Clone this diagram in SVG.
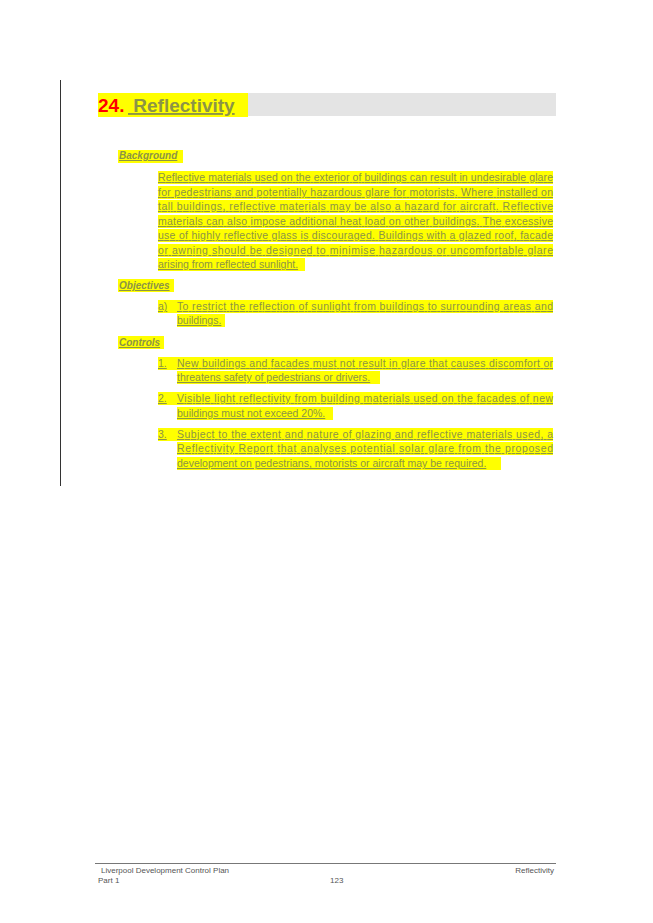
<svg xmlns="http://www.w3.org/2000/svg" width="653" height="923" viewBox="0 0 653 923">
<style>
.t{font-family:"Liberation Sans",Arial,sans-serif;font-size:10.5px;fill:#8c9446;text-decoration:underline}
.h{font-family:"Liberation Sans",Arial,sans-serif;font-size:10px;font-weight:bold;font-style:italic;fill:#8c9446;text-decoration:underline}
.hl{fill:#ffff00}
.f{font-family:"Liberation Sans",Arial,sans-serif;font-size:8px;fill:#555}
</style>
<rect width="653" height="923" fill="#fff"/>
<line x1="60.5" y1="80" x2="60.5" y2="486" stroke="#333" stroke-width="1"/>
<g id="title">
<rect x="98" y="93" width="458" height="23" fill="#e4e4e4"/>
<rect x="98" y="93" width="150" height="24" class="hl"/>
<text x="98" y="112" font-family="Liberation Sans,Arial,sans-serif" font-size="19" font-weight="bold" fill="#ff0000">24.</text>
<text x="128" y="112" font-family="Liberation Sans,Arial,sans-serif" font-size="19" font-weight="bold" fill="#8c9446" text-decoration="underline" xml:space="preserve"> Reflectivity</text>
</g>
<g id="background">
<rect x="118" y="150" width="65" height="13" class="hl"/>
<text x="119" y="159" class="h">Background</text>
<rect x="158" y="171" width="395" height="13" class="hl"/>
<rect x="158" y="186" width="395" height="13" class="hl"/>
<rect x="158" y="200" width="395" height="13" class="hl"/>
<rect x="158" y="215" width="395" height="13" class="hl"/>
<rect x="158" y="229" width="395" height="13" class="hl"/>
<rect x="158" y="244" width="395" height="13" class="hl"/>
<rect x="158" y="258" width="147" height="13" class="hl"/>
<text x="158" y="181" class="t" textLength="395" lengthAdjust="spacing">Reflective materials used on the exterior of buildings can result in undesirable glare</text>
<text x="158" y="196" class="t" textLength="395" lengthAdjust="spacing">for pedestrians and potentially hazardous glare for motorists. Where installed on</text>
<text x="158" y="210" class="t" textLength="395" lengthAdjust="spacing">tall buildings, reflective materials may be also a hazard for aircraft. Reflective</text>
<text x="158" y="225" class="t" textLength="395" lengthAdjust="spacing">materials can also impose additional heat load on other buildings. The excessive</text>
<text x="158" y="239" class="t" textLength="395" lengthAdjust="spacing">use of highly reflective glass is discouraged. Buildings with a glazed roof, facade</text>
<text x="158" y="254" class="t" textLength="395" lengthAdjust="spacing">or awning should be designed to minimise hazardous or uncomfortable glare</text>
<text x="158" y="268" class="t">arising from reflected sunlight.</text>
</g>
<g id="objectives">
<rect x="118" y="279" width="56" height="13" class="hl"/>
<text x="119" y="289" class="h">Objectives</text>
<rect x="158" y="300" width="395" height="13" class="hl"/>
<rect x="177" y="314" width="48" height="13" class="hl"/>
<text x="158" y="310" class="t">a)</text>
<text x="177" y="310" class="t" textLength="376" lengthAdjust="spacing">To restrict the reflection of sunlight from buildings to surrounding areas and</text>
<text x="177" y="324" class="t">buildings.</text>
</g>
<g id="controls">
<rect x="118" y="336" width="46" height="13" class="hl"/>
<text x="119" y="346" class="h">Controls</text>
<rect x="158" y="357" width="395" height="13" class="hl"/>
<rect x="177" y="371" width="203" height="13" class="hl"/>
<text x="158" y="367" class="t">1.</text>
<text x="177" y="367" class="t" textLength="376" lengthAdjust="spacing">New buildings and facades must not result in glare that causes discomfort or</text>
<text x="177" y="381" class="t">threatens safety of pedestrians or drivers.</text>
<rect x="158" y="392" width="395" height="13" class="hl"/>
<rect x="177" y="407" width="156" height="13" class="hl"/>
<text x="158" y="402" class="t">2.</text>
<text x="177" y="402" class="t" textLength="376" lengthAdjust="spacing">Visible light reflectivity from building materials used on the facades of new</text>
<text x="177" y="417" class="t">buildings must not exceed 20%.</text>
<rect x="158" y="428" width="395" height="13" class="hl"/>
<rect x="177" y="442" width="376" height="13" class="hl"/>
<rect x="177" y="457" width="324" height="13" class="hl"/>
<text x="158" y="438" class="t">3.</text>
<text x="177" y="438" class="t" textLength="376" lengthAdjust="spacing">Subject to the extent and nature of glazing and reflective materials used, a</text>
<text x="177" y="452" class="t" textLength="376" lengthAdjust="spacing">Reflectivity Report that analyses potential solar glare from the proposed</text>
<text x="177" y="467" class="t">development on pedestrians, motorists or aircraft may be required.</text>
</g>
<g id="footer">
<line x1="95" y1="863.5" x2="556" y2="863.5" stroke="#777" stroke-width="1"/>
<text x="101" y="873" class="f">Liverpool Development Control Plan</text>
<text x="98" y="883" class="f">Part 1</text>
<text x="330" y="883" class="f">123</text>
<text x="554" y="873" class="f" text-anchor="end">Reflectivity</text>
</g>
</svg>
